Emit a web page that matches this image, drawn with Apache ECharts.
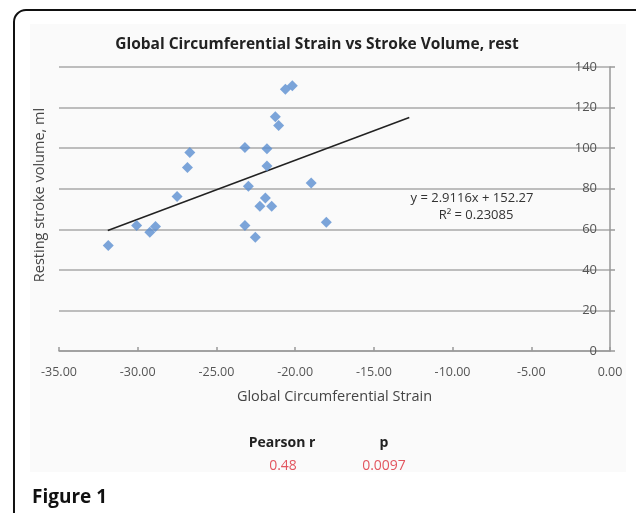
<!DOCTYPE html>
<html>
<head>
<meta charset="utf-8">
<script src="https://cdn.jsdelivr.net/npm/echarts@6/dist/echarts.min.js"></script>
<style>
html,body{margin:0;padding:0;background:#fff;}
#chart{width:636px;height:513px;}
</style>
</head>
<body>
<div id="chart"></div>
<script>
// Data
var strainValues = [-31.87, -30.07, -29.23, -28.87, -27.5, -26.84, -26.69, -23.19, -22.97, -23.19, -22.53, -22.24, -21.89, -21.49, -21.79, -21.79, -21.26, -21.05, -20.62, -20.18, -18.98, -18.02];
var strokeVolumes = [52.0, 61.9, 58.6, 61.4, 76.2, 90.4, 97.9, 100.3, 81.2, 61.9, 56.1, 71.3, 75.4, 71.3, 91.2, 99.7, 115.5, 111.2, 129.0, 130.7, 82.8, 63.5];
var trendX = [-31.9, -12.75];
var trendY = [59.4, 115.1];
var xTicks = [-35, -30, -25, -20, -15, -10, -5, 0];
var yTicks = [0, 20, 40, 60, 80, 100, 120, 140];
var titleText = 'Global Circumferential Strain vs Stroke Volume, rest';
var xName = 'Global Circumferential Strain';
var yName = 'Resting stroke volume, ml';
var equationText = 'y = 2.9116x + 152.27';
var r2Text = 'R\u00B2 = 0.23085';
var statHeaders = ['Pearson r', 'p'];
var statValues = ['0.48', '0.0097'];
var figureLabel = 'Figure 1';

var points = strainValues.map(function (x, i) { return [x, strokeVolumes[i]]; });
var trend = trendX.map(function (x, i) { return [x, trendY[i]]; });

var FONT = '"Open Sans", "Noto Sans", sans-serif';
var chart = echarts.init(document.getElementById('chart'), null, {renderer: 'canvas'});
chart.setOption({
  animation: false,
  backgroundColor: '#ffffff',
  textStyle: {fontFamily: FONT},
  title: {
    text: titleText,
    left: 312, top: 32, textAlign: 'center',
    textStyle: {fontFamily: FONT, fontSize: 15.5, fontWeight: 'bold', color: '#222'}
  },
  grid: {left: 59, right: 26, top: 67, bottom: 162, containLabel: false},
  xAxis: {
    type: 'value', min: -35, max: 0, interval: 5,
    axisLine: {onZero: false, lineStyle: {color: '#999', width: 1.5}},
    axisTick: {show: true, inside: true, length: 4, lineStyle: {color: '#999', width: 1.5}},
    splitLine: {show: false},
    axisLabel: {
      margin: 15, fontSize: 12.5, color: '#555', fontFamily: FONT,
      formatter: function (v) { return xTicks.indexOf(v) >= 0 ? v.toFixed(2) : ''; }
    },
    name: xName, nameLocation: 'middle', nameGap: 38,
    nameTextStyle: {fontSize: 14.5, color: '#444', fontFamily: FONT}
  },
  yAxis: {
    type: 'value', min: 0, max: 140, interval: 20, position: 'right',
    axisLine: {show: true, onZero: false, lineStyle: {color: '#999', width: 1.5}},
    axisTick: {show: true, length: 5, lineStyle: {color: '#999', width: 1.5}},
    splitLine: {show: true, lineStyle: {color: '#a8a8a8', width: 1.5}},
    axisLabel: {
      inside: true, margin: 13, fontSize: 13, color: '#555', fontFamily: FONT,
      formatter: function (v) { return yTicks.indexOf(v) >= 0 ? String(v) : ''; }
    }
  },
  series: [
    {
      type: 'line', data: trend, symbol: 'none', z: 3,
      lineStyle: {color: '#222', width: 1.5}
    },
    {
      type: 'scatter', data: points, symbol: 'diamond', symbolSize: 11, z: 4,
      itemStyle: {color: '#5b8fd1'}
    }
  ],
  graphic: [
    {type: 'rect', z: -10, silent: true, shape: {x: 30, y: 24, width: 596, height: 448}, style: {fill: '#fafafa'}},
    {type: 'rect', z: 100, silent: true, shape: {x: 14, y: 10, width: 640, height: 540, r: 12}, style: {fill: 'none', stroke: '#111', lineWidth: 2}},
    {type: 'text', x: 40, y: 195, rotation: Math.PI / 2, style: {text: yName, font: '14.5px ' + FONT, fill: '#444', textAlign: 'center', textVerticalAlign: 'middle'}},
    {type: 'text', x: 472, y: 198, style: {text: equationText, font: '13px ' + FONT, fill: '#333', textAlign: 'center', textVerticalAlign: 'middle'}},
    {type: 'text', x: 476, y: 215, style: {text: r2Text, font: '13px ' + FONT, fill: '#333', textAlign: 'center', textVerticalAlign: 'middle'}},
    {type: 'text', x: 282, y: 443, style: {text: statHeaders[0], font: 'bold 14px ' + FONT, fill: '#222', textAlign: 'center', textVerticalAlign: 'middle'}},
    {type: 'text', x: 384, y: 443, style: {text: statHeaders[1], font: 'bold 14px ' + FONT, fill: '#222', textAlign: 'center', textVerticalAlign: 'middle'}},
    {type: 'text', x: 283, y: 466, style: {text: statValues[0], font: '14px ' + FONT, fill: '#e2565f', textAlign: 'center', textVerticalAlign: 'middle'}},
    {type: 'text', x: 384, y: 466, style: {text: statValues[1], font: '14px ' + FONT, fill: '#e2565f', textAlign: 'center', textVerticalAlign: 'middle'}},
    {type: 'text', x: 32, y: 498, style: {text: figureLabel, font: 'bold 19px ' + FONT, fill: '#111', textAlign: 'left', textVerticalAlign: 'middle'}}
  ]
});
</script>
</body>
</html>
